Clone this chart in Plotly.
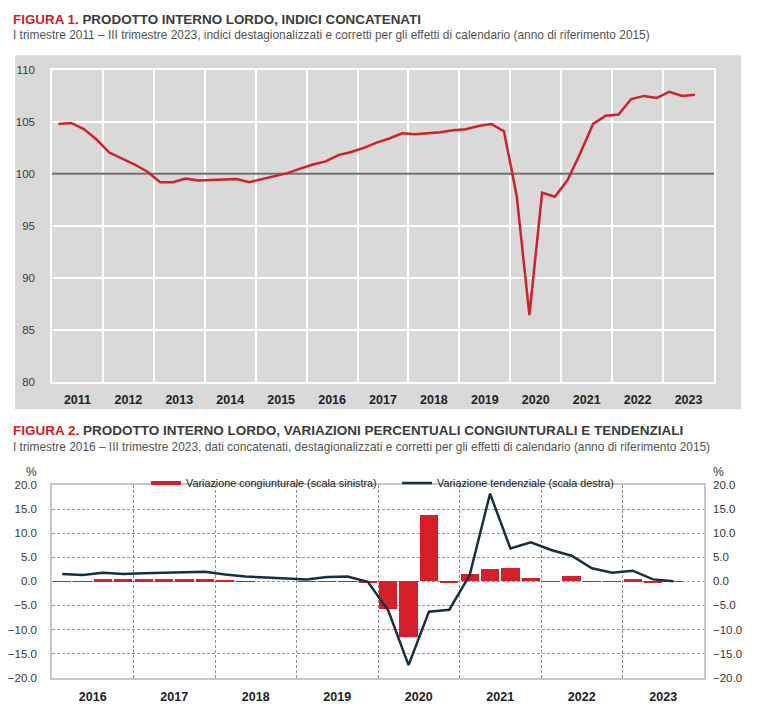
import plotly.graph_objects as go

# ---------------- DATA ----------------
years1 = [str(y) for y in range(2011, 2024)]
# Figure 1: GDP chained index (2015=100), 2011Q1 .. 2023Q3
gdp_index = [104.8, 104.9, 104.3, 103.3,
             102.05, 101.45, 100.9, 100.2,
             99.2, 99.2, 99.55, 99.35,
             99.4, 99.4, 99.5, 99.2,
             99.5, 99.8, 100.07, 100.5,
             100.9, 101.2, 101.8, 102.1,
             102.5, 103.0, 103.4, 103.9,
             103.8, 103.9, 104.0, 104.2,
             104.3, 104.6, 104.8, 104.1,
             97.9, 86.4, 98.2, 97.8,
             99.4, 102.0, 104.8, 105.6,
             105.7, 107.2, 107.5, 107.3,
             107.9, 107.5, 107.6]
base_value = 100  # reference year 2015 = 100

years2 = [str(y) for y in range(2016, 2024)]
# Figure 2: quarterly (congiunturale) and annual (tendenziale) % changes, 2016Q1 .. 2023Q3
congiunturale = [0.05, 0.05, 0.4, 0.4, 0.4, 0.4, 0.4, 0.4,
                 0.1, 0.05, 0.0, 0.0, 0.05, 0.05, 0.05, -0.4,
                 -5.8, -11.5, 13.7, -0.2, 1.5, 2.6, 2.8, 0.6,
                 0.05, 1.2, 0.05, -0.1, 0.4, -0.3, 0.05]
tendenziale = [1.5, 1.3, 1.8, 1.5, 1.7, 1.8, 1.8, 2.0,
               1.4, 1.0, 0.8, 0.6, 0.4, 0.9, 1.0, -0.1,
               -6.0, -17.4, -6.3, -5.9, 1.3, 18.2, 6.8, 8.1,
               6.5, 5.3, 2.7, 1.8, 2.2, 0.4, 0.0]

# ---------------- STYLE ----------------
W, H = 767, 725
FONT = "Liberation Sans, Arial, sans-serif"
RED = "#d21f2c"
NAVY = "#17303f"
TXT = "#3a3a3a"

def px_x(p):
    return p / W

def px_y(p):
    return 1 - p / H

n1 = len(years1) * 4
n2 = len(years2) * 4
x1 = [i + 0.5 for i in range(len(gdp_index))]
x2 = [i + 0.5 for i in range(len(congiunturale))]

fig = go.Figure()

# Figure 1: base line at 100, then the index line
fig.add_trace(go.Scatter(x=[0, n1], y=[base_value, base_value], mode="lines",
                         line=dict(color="#6e6e6e", width=2),
                         xaxis="x", yaxis="y", showlegend=False,
                         hoverinfo="skip"))
fig.add_trace(go.Scatter(x=x1, y=gdp_index, mode="lines",
                         line=dict(color=RED, width=2.5),
                         xaxis="x", yaxis="y", showlegend=False,
                         hoverinfo="skip"))

# Figure 2 bars + line
fig.add_trace(go.Bar(x=x2, y=congiunturale, width=0.9,
                     marker=dict(color="#d71f2b", line=dict(width=0)),
                     xaxis="x2", yaxis="y2", showlegend=False,
                     name="Variazione congiunturale (scala sinistra)"))
fig.add_trace(go.Scatter(x=x2, y=tendenziale, mode="lines",
                         line=dict(color=NAVY, width=2.5),
                         xaxis="x2", yaxis="y3", showlegend=False,
                         name="Variazione tendenziale (scala destra)"))
# legend proxies
fig.add_trace(go.Scatter(x=[None], y=[None], mode="lines",
                         line=dict(color="#d71f2b", width=4),
                         xaxis="x2", yaxis="y2",
                         name="Variazione congiunturale (scala sinistra)"))
fig.add_trace(go.Scatter(x=[None], y=[None], mode="lines",
                         line=dict(color=NAVY, width=2.5),
                         xaxis="x2", yaxis="y3",
                         name="Variazione tendenziale (scala destra)"))

fig.update_layout(
    width=W, height=H,
    margin=dict(l=0, r=0, t=0, b=0),
    paper_bgcolor="white",
    plot_bgcolor="rgba(0,0,0,0)",
    font=dict(family=FONT, size=11, color=TXT),
    bargap=0,
    xaxis=dict(
        domain=[px_x(52), px_x(714)], anchor="y",
        range=[0, n1], tickmode="array",
        tickvals=[i * 4 + 2 for i in range(len(years1))], ticktext=years1,
        tickfont=dict(family=FONT, size=12.5, color="#222222", weight="bold"),
        showgrid=False, zeroline=False, ticks="",
        showline=True, linecolor="white", linewidth=1.5, mirror=True,
        ticklabelstandoff=6,
        minor=dict(tickmode="array", tickvals=[i * 4 for i in range(len(years1) + 1)],
                   showgrid=True, gridcolor="white", gridwidth=1.5, ticks=""),
    ),
    yaxis=dict(
        domain=[px_y(382), px_y(65)], anchor="x",
        range=[80, 110], dtick=5, tick0=80,
        gridcolor="white", gridwidth=1.5, zeroline=False, ticks="",
        showline=True, linecolor="white", linewidth=1.5, mirror=True,
        tickfont=dict(family=FONT, size=11.5, color=TXT),
        ticklabelstandoff=13,
    ),
    xaxis2=dict(
        domain=[px_x(52), px_x(704)], anchor="y2",
        range=[0, n2], tickmode="array",
        tickvals=[i * 4 + 2 for i in range(len(years2))], ticktext=years2,
        tickfont=dict(family=FONT, size=12.5, color="#222222", weight="bold"),
        showgrid=False, zeroline=False, ticks="",
        showline=True, linecolor="#c8c8c8", linewidth=1.5, mirror=True,
        ticklabelstandoff=7,
        minor=dict(tickmode="array", tickvals=[i * 4 for i in range(1, len(years2))],
                   showgrid=True, gridcolor="#8f8f8f", gridwidth=1,
                   griddash="3px,2px", ticks=""),
    ),
    yaxis2=dict(
        domain=[px_y(683), px_y(487)], anchor="x2",
        range=[-20, 20], dtick=5, tick0=-20, tickformat=".1f",
        gridcolor="#9a9a9a", gridwidth=1, griddash="3px,2px",
        zeroline=False, ticks="",
        showline=True, linecolor="#c8c8c8", linewidth=1.5, mirror=True,
        tickfont=dict(family=FONT, size=11.5, color=TXT),
        ticklabelstandoff=11,
    ),
    yaxis3=dict(
        overlaying="y2", side="right", anchor="x2",
        range=[-20, 20], dtick=5, tick0=-20, tickformat=".1f",
        showgrid=False, zeroline=False, ticks="", showline=False,
        tickfont=dict(family=FONT, size=11.5, color=TXT),
        ticklabelstandoff=8,
    ),
    legend=dict(
        orientation="h", x=px_x(146), xanchor="left",
        y=px_y(485), yanchor="middle",
        bgcolor="rgba(0,0,0,0)",
        font=dict(family=FONT, size=10.8, color="#222222"),
        itemwidth=30, entrywidth=206, entrywidthmode="pixels",
        tracegroupgap=0,
    ),
    showlegend=True,
)

# Figure 1 grey panel
fig.add_shape(type="rect", xref="paper", yref="paper",
              x0=px_x(15), x1=px_x(741), y0=px_y(410), y1=px_y(50),
              fillcolor="#d9d9d9", line=dict(width=0), layer="below")

# Titles
fig.add_annotation(xref="paper", yref="paper", x=px_x(11), y=px_y(13.5),
                   xanchor="left", yanchor="middle", showarrow=False,
                   text="<b><span style='color:#d7202b'>FIGURA 1.</span> PRODOTTO INTERNO LORDO, INDICI CONCATENATI</b>",
                   font=dict(family=FONT, size=13.4, color="#3c3c3c"))
fig.add_annotation(xref="paper", yref="paper", x=px_x(11), y=px_y(29),
                   xanchor="left", yanchor="middle", showarrow=False,
                   text="I trimestre 2011 \u2013 III trimestre 2023, indici destagionalizzati e corretti per gli effetti di calendario (anno di riferimento 2015)",
                   font=dict(family=FONT, size=11.9, color="#555555"))
fig.add_annotation(xref="paper", yref="paper", x=px_x(11), y=px_y(432),
                   xanchor="left", yanchor="middle", showarrow=False,
                   text="<b><span style='color:#d7202b'>FIGURA 2.</span> PRODOTTO INTERNO LORDO, VARIAZIONI PERCENTUALI CONGIUNTURALI E TENDENZIALI</b>",
                   font=dict(family=FONT, size=13.5, color="#3c3c3c"))
fig.add_annotation(xref="paper", yref="paper", x=px_x(11), y=px_y(448),
                   xanchor="left", yanchor="middle", showarrow=False,
                   text="I trimestre 2016 \u2013 III trimestre 2023, dati concatenati, destagionalizzati e corretti per gli effetti di calendario (anno di riferimento 2015)",
                   font=dict(family=FONT, size=11.9, color="#555555"))
# % unit labels
fig.add_annotation(xref="paper", yref="paper", x=px_x(31), y=px_y(474),
                   xanchor="center", yanchor="middle", showarrow=False,
                   text="%", font=dict(family=FONT, size=12, color=TXT))
fig.add_annotation(xref="paper", yref="paper", x=px_x(718), y=px_y(474),
                   xanchor="center", yanchor="middle", showarrow=False,
                   text="%", font=dict(family=FONT, size=12, color=TXT))

fig.write_html("out.html")
